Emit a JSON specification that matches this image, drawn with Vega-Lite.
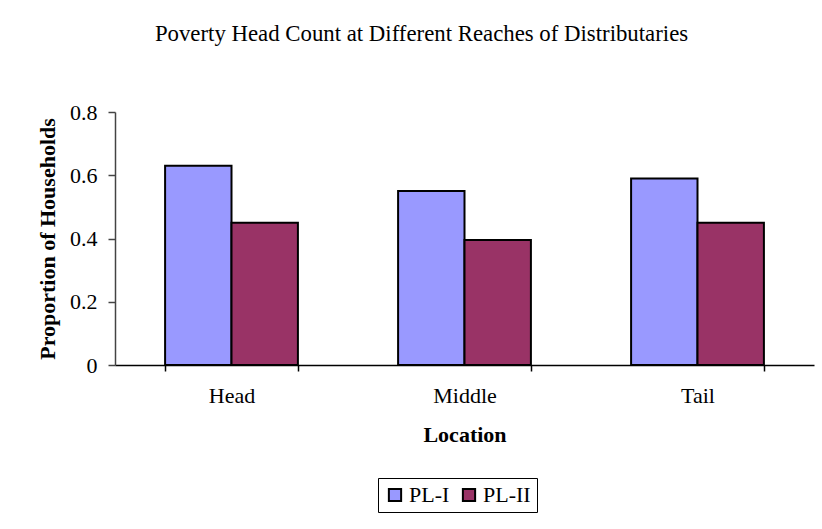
{
  "$schema": "https://vega.github.io/schema/vega-lite/v6.json",
  "autosize": {"type": "none"},
  "padding": {"left": 115, "top": 112, "right": 8, "bottom": 164},
  "width": 699,
  "height": 253,
  "background": "white",
  "title": {
    "text": "Poverty Head Count at Different Reaches of Distributaries",
    "font": "Liberation Serif",
    "fontSize": 22.8,
    "fontWeight": "normal",
    "color": "black",
    "anchor": "middle",
    "dx": -43,
    "offset": 55
  },
  "data": {
    "values": [
      {"location": "Head", "series": "PL-I", "value": 0.63},
      {"location": "Head", "series": "PL-II", "value": 0.45},
      {"location": "Middle", "series": "PL-I", "value": 0.55},
      {"location": "Middle", "series": "PL-II", "value": 0.395},
      {"location": "Tail", "series": "PL-I", "value": 0.59},
      {"location": "Tail", "series": "PL-II", "value": 0.45}
    ]
  },
  "mark": {"type": "bar", "stroke": "black", "strokeWidth": 2},
  "encoding": {
    "x": {
      "field": "location",
      "type": "nominal",
      "sort": ["Head", "Middle", "Tail"],
      "scale": {"paddingInner": 0.43, "paddingOuter": 0.215},
      "axis": {
        "title": "Location",
        "labelAngle": 0,
        "tickBand": "extent",
        "tickSize": 6,
        "labelPadding": 14,
        "titlePadding": 18,
        "domainColor": "black",
        "tickColor": "black"
      }
    },
    "xOffset": {"field": "series", "type": "nominal", "sort": ["PL-I", "PL-II"]},
    "y": {
      "field": "value",
      "type": "quantitative",
      "scale": {"domain": [0, 0.8], "nice": false},
      "axis": {
        "title": "Proportion of Households",
        "values": [0, 0.2, 0.4, 0.6, 0.8],
        "format": "~g",
        "grid": false,
        "tickSize": 7,
        "labelPadding": 11,
        "titlePadding": 10,
        "domainColor": "#444",
        "tickColor": "#444"
      }
    },
    "color": {
      "field": "series",
      "type": "nominal",
      "sort": ["PL-I", "PL-II"],
      "scale": {"domain": ["PL-I", "PL-II"], "range": ["#9999FF", "#993366"]},
      "legend": {
        "title": null,
        "orient": "none",
        "direction": "horizontal",
        "legendX": 263,
        "legendY": 366,
        "strokeColor": "black",
        "padding": 6,
        "symbolType": "square",
        "symbolSize": 150,
        "symbolStrokeColor": "black",
        "symbolStrokeWidth": 2,
        "symbolOpacity": 1,
        "labelFont": "Liberation Serif",
        "labelFontSize": 22,
        "labelColor": "black",
        "labelOffset": 3,
        "columnPadding": 8
      }
    }
  },
  "config": {
    "view": {"stroke": null},
    "axis": {
      "labelFont": "Liberation Serif",
      "labelFontSize": 22,
      "labelColor": "black",
      "titleFont": "Liberation Serif",
      "titleFontSize": 22,
      "titleFontWeight": "bold",
      "titleColor": "black",
      "domainWidth": 1.5,
      "tickWidth": 1.5
    }
  }
}
